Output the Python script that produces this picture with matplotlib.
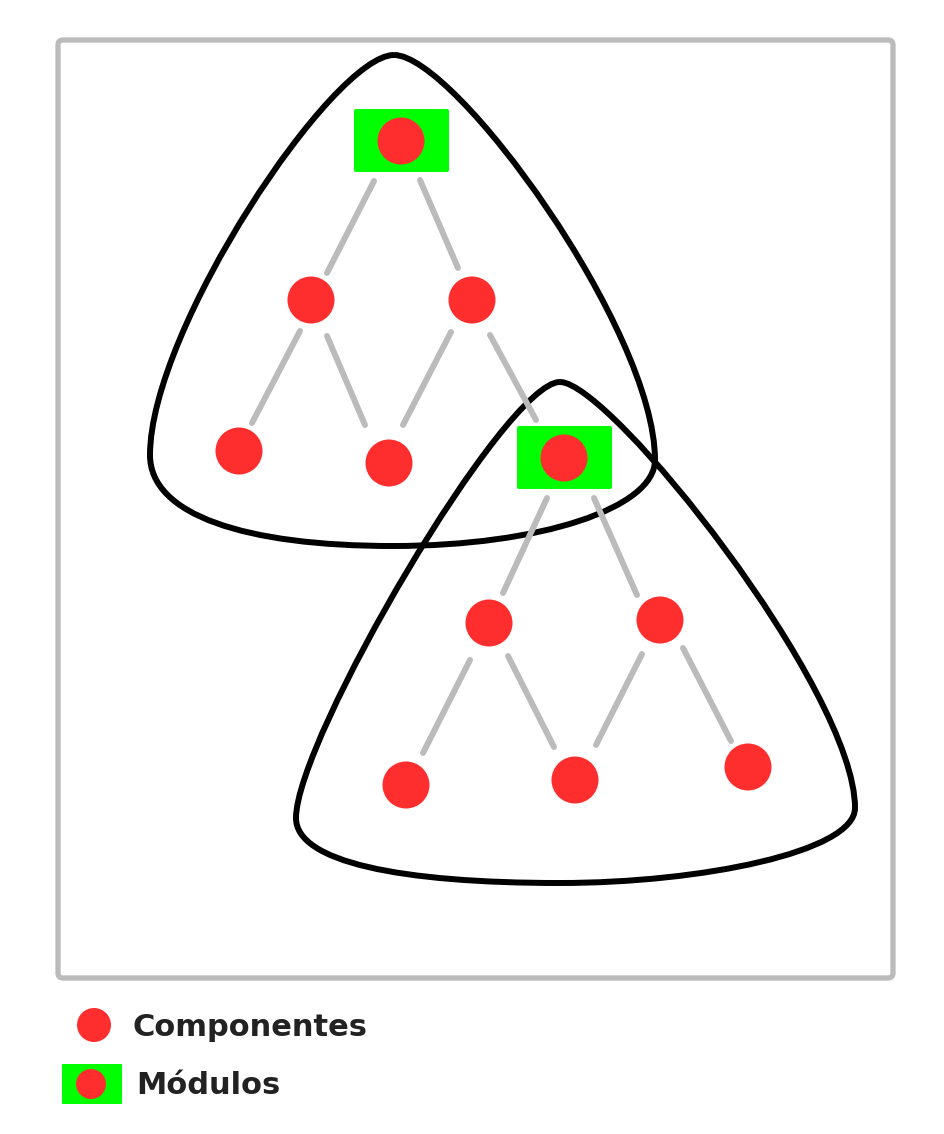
import numpy as np
import matplotlib
matplotlib.use("Agg")
import matplotlib.pyplot as plt
from matplotlib.path import Path
from matplotlib.patches import PathPatch, Circle, FancyBboxPatch

# ---- diagram data (pixel coordinates of the reference, y grows downwards) ----
# components (red dots)
comp_x = [311, 472, 239, 389, 489, 660, 406, 575, 748]
comp_y = [300, 300, 451, 463, 623, 620, 785, 780, 767]

# modules (green box with a red dot)
mod_x = [401, 564]
mod_y = [141, 458]

# links between the nodes: (x0, y0, x1, y1)
links = [
    (374, 181, 327, 273), (420, 180, 458, 268),
    (300, 331, 252, 423), (327, 336, 365, 425),
    (451, 332, 403, 425), (490, 335, 536, 420),
    (547, 498, 503, 593), (594, 498, 637, 595),
    (470, 660, 423, 753), (508, 656, 554, 747),
    (642, 654, 596, 745), (683, 648, 731, 741),
]

# group outlines: start point, then (ctrl1, ctrl2, end) for each bezier piece
top_blob = [(394, 55),
            (455, 55), (655, 330), (655, 460),
            (655, 508), (540, 546), (393, 546),
            (245, 546), (150, 515), (150, 455),
            (150, 330), (333, 55), (394, 55)]
bottom_blob = [(560, 382),
               (610, 382), (855, 690), (855, 808),
               (855, 852), (700, 883), (560, 883),
               (400, 883), (296, 862), (296, 818),
               (296, 740), (505, 382), (560, 382)]

legend_labels = ["Componentes", "Módulos"]

RED = "#ff2e2e"
GREEN = "#00ff00"
GREY = "#bbbbbb"


def blob_path(points):
    codes = [Path.MOVETO] + [Path.CURVE4] * (len(points) - 1)
    return Path(np.array(points, dtype=float), codes)


fig = plt.figure(figsize=(9.45, 11.34), dpi=100)
ax = fig.add_axes([0, 0, 1, 1])
ax.set_xlim(0, 945)
ax.set_ylim(1134, 0)
ax.axis("off")

# outer frame
frame = FancyBboxPatch((58, 40), 835, 938, boxstyle="round,pad=0,rounding_size=5",
                       fill=False, edgecolor=GREY, linewidth=3.8)
ax.add_patch(frame)

# group outlines
for blob in (top_blob, bottom_blob):
    ax.add_patch(PathPatch(blob_path(blob), fill=False, edgecolor="black",
                           linewidth=4.3, zorder=2))

# links
for x0, y0, x1, y1 in links:
    ax.plot([x0, x1], [y0, y1], color=GREY, linewidth=4.3,
            solid_capstyle="round", zorder=3)

# modules
for x, y in zip(mod_x, mod_y):
    ax.add_patch(FancyBboxPatch((x - 47, y - 32), 95, 63,
                                boxstyle="round,pad=0,rounding_size=2",
                                facecolor=GREEN, edgecolor="none", zorder=4))
    ax.add_patch(Circle((x, y), 23.5, facecolor=RED, edgecolor="none", zorder=5))

# components
for x, y in zip(comp_x, comp_y):
    ax.add_patch(Circle((x, y), 23.5, facecolor=RED, edgecolor="none", zorder=5))

# legend
ax.add_patch(Circle((94, 1025), 17, facecolor=RED, edgecolor="none"))
ax.text(132, 1027, legend_labels[0], fontsize=22, fontweight="bold",
        color="#222222", va="center", ha="left", family="DejaVu Sans")
ax.add_patch(FancyBboxPatch((62, 1064), 60, 40, boxstyle="round,pad=0,rounding_size=1",
                            facecolor=GREEN, edgecolor="none"))
ax.add_patch(Circle((91, 1084), 15, facecolor=RED, edgecolor="none"))
ax.text(136, 1086, legend_labels[1], fontsize=22, fontweight="bold",
        color="#222222", va="center", ha="left", family="DejaVu Sans")

fig.savefig("out.png", dpi=100)
